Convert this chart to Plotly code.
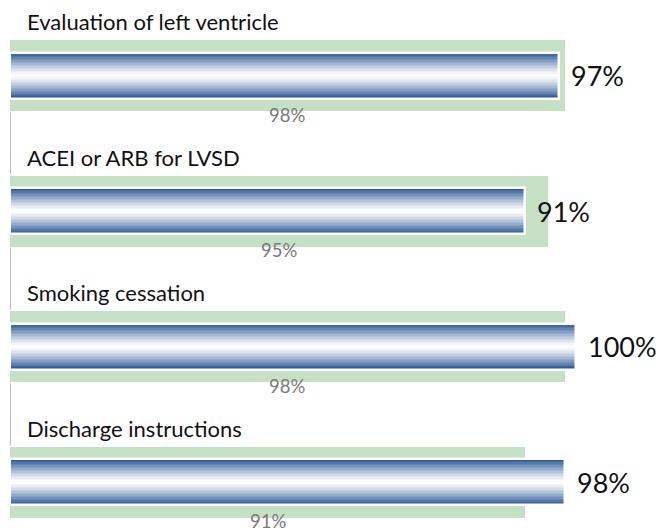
import plotly.graph_objects as go

categories = ["Evaluation of left ventricle", "ACEI or ARB for LVSD",
              "Smoking cessation", "Discharge instructions"]
values = [97, 91, 100, 98]          # hospital (blue gradient bars)
benchmark = [98, 95, 98, 91]        # comparison (green bars)
value_labels = ["97%", "91%", "100%", "98%"]
bench_labels = ["98%", "95%", "98%", "91%"]

FONT = "Lato"
GREEN = "#c6e0c6"
BLUE = (40, 84, 148)
PX_PER_CAT = 135.5
GREEN_W = 71 / PX_PER_CAT
BLUE_W = 46 / PX_PER_CAT

idx = list(range(len(categories)))
fig = go.Figure()

# green benchmark bars
fig.add_trace(go.Bar(y=categories, x=benchmark, orientation="h", width=GREEN_W,
                     marker=dict(color=GREEN, line=dict(width=0)),
                     hoverinfo="skip", showlegend=False))

# blue gradient bars built from thin strips
N = 30
step = BLUE_W / N
for k in range(N):
    t = (k + 0.5) / N
    f = abs(2 * t - 1) ** 1.25
    r = round(255 + (BLUE[0] - 255) * f)
    g = round(255 + (BLUE[1] - 255) * f)
    b = round(255 + (BLUE[2] - 255) * f)
    fig.add_trace(go.Bar(y=categories, x=values, orientation="h",
                         offset=-BLUE_W / 2 + k * step,
                         width=step * (1.6 if k < N - 1 else 1.0),
                         marker=dict(color=f"rgb({r},{g},{b})", line=dict(width=0)),
                         hoverinfo="skip", showlegend=False))

# white outline around the gradient bars
fig.add_trace(go.Bar(y=categories, x=values, orientation="h", width=BLUE_W,
                     marker=dict(color="rgba(0,0,0,0)", line=dict(color="white", width=2.5)),
                     hoverinfo="skip", showlegend=False))

annotations = []
shapes = []
for i in idx:
    annotations.append(dict(x=0, y=i - 0.395, xref="x", yref="y", text=categories[i],
                            showarrow=False, xanchor="left", yanchor="middle", xshift=15,
                            font=dict(family=FONT, size=22, color="#111")))
    annotations.append(dict(x=values[i], y=i, xref="x", yref="y", text=value_labels[i],
                            showarrow=False, xanchor="left", yanchor="middle", xshift=10,
                            font=dict(family=FONT, size=27, color="#111")))
    annotations.append(dict(x=benchmark[i] / 2, y=i + 0.29, xref="x", yref="y",
                            text=bench_labels[i], showarrow=False, xanchor="center",
                            yanchor="middle", font=dict(family=FONT, size=18.5, color="#7a7a7a")))
    if i < len(categories) - 1:
        shapes.append(dict(type="line", xref="x", yref="y", x0=0, x1=0,
                           y0=i + GREEN_W / 2 + 0.01, y1=i + 1 - GREEN_W / 2 - 0.01,
                           line=dict(color="#bbbbbb", width=2), layer="below"))

fig.update_layout(
    width=663, height=531,
    margin=dict(l=10, r=0, t=0, b=0),
    paper_bgcolor="white", plot_bgcolor="white",
    barmode="overlay", bargap=0,
    annotations=annotations, shapes=shapes,
    xaxis=dict(range=[0, 653 / 5.66], visible=False, fixedrange=True),
    yaxis=dict(type="category", categoryorder="array", categoryarray=categories,
               range=[(531 - 75.5) / PX_PER_CAT, -75.5 / PX_PER_CAT],
               visible=False, fixedrange=True),
)
fig.write_html("out.html", config={"displayModeBar": False},
               post_script="document.body.style.margin='0px';document.body.style.overflow='hidden';")
